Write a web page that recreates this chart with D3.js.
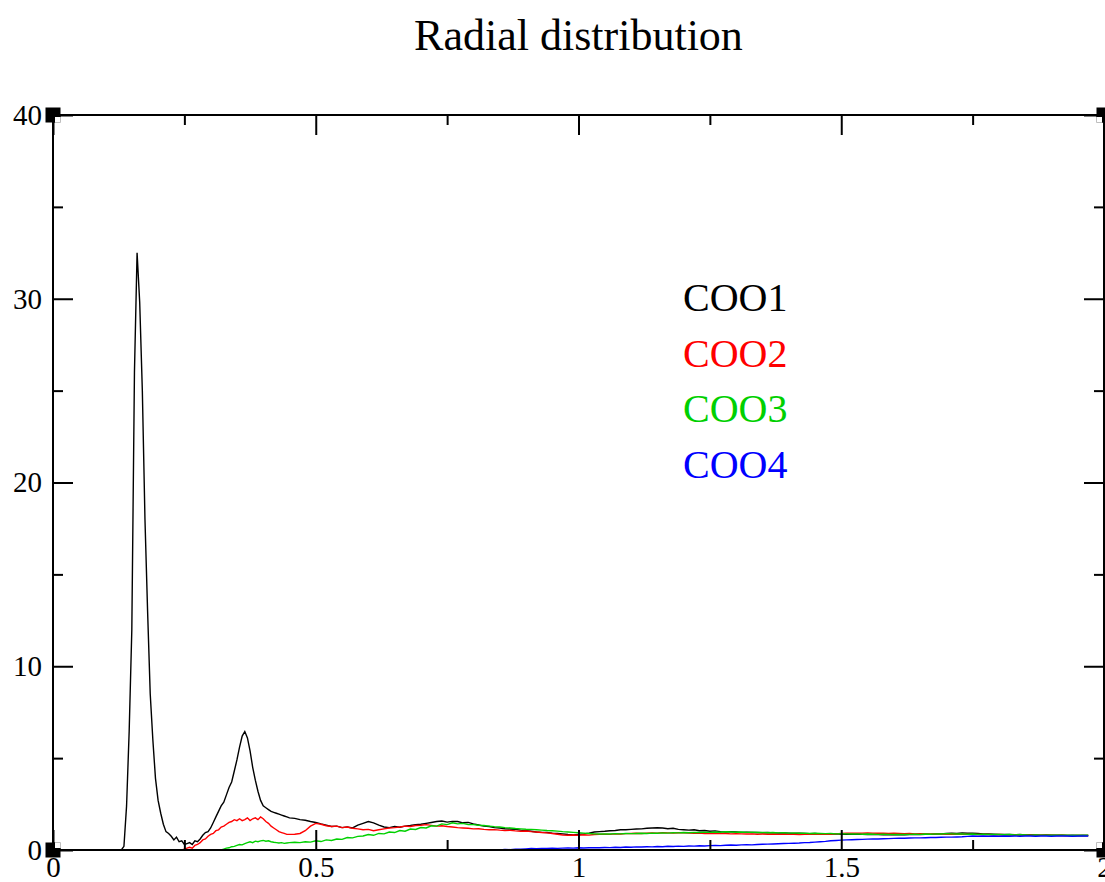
<!DOCTYPE html>
<html lang="en">
<head>
<meta charset="UTF-8">
<title>Radial distribution</title>
<style>
  body { margin: 0; background: #fff; }
  svg { display: block; }
</style>
</head>
<body>
<script src="https://cdn.jsdelivr.net/npm/d3@7"></script>
<script>
    // bin centres (nm): fine near the first peaks, coarser afterwards
    const radius = [
        0.125, 0.13, 0.135, 0.14, 0.145, 0.15, 0.155, 0.16, 0.165, 0.17,
        0.175, 0.18, 0.185, 0.19, 0.195, 0.2, 0.205, 0.21, 0.215, 0.22,
        0.225, 0.23, 0.235, 0.24, 0.245, 0.25, 0.255, 0.26, 0.265, 0.27,
        0.275, 0.28, 0.285, 0.29, 0.295, 0.3, 0.305, 0.31, 0.315, 0.32,
        0.325, 0.33, 0.335, 0.34, 0.345, 0.35, 0.355, 0.36, 0.365, 0.37,
        0.375, 0.38, 0.385, 0.39, 0.395, 0.4, 0.405, 0.41, 0.415, 0.42,
        0.425, 0.43, 0.435, 0.44, 0.445, 0.45,
        0.46, 0.47, 0.48, 0.49,
        0.5, 0.51, 0.52, 0.53, 0.54, 0.55, 0.56, 0.57, 0.58, 0.59,
        0.6, 0.61, 0.62, 0.63, 0.64, 0.65, 0.66, 0.67, 0.68, 0.69,
        0.7, 0.71, 0.72, 0.73, 0.74, 0.75, 0.76, 0.77, 0.78, 0.79,
        0.8, 0.81, 0.82, 0.83, 0.84, 0.85, 0.86, 0.87, 0.88, 0.89,
        0.9, 0.91, 0.92, 0.93, 0.94, 0.95, 0.96, 0.97, 0.98, 0.99,
        1.0, 1.01, 1.02, 1.03, 1.04, 1.05, 1.06, 1.07, 1.08, 1.09,
        1.1, 1.11, 1.12, 1.13, 1.14, 1.15, 1.16, 1.17, 1.18, 1.19,
        1.2, 1.21, 1.22, 1.23, 1.24, 1.25, 1.26, 1.27, 1.28, 1.29,
        1.3, 1.31, 1.32, 1.33, 1.34, 1.35, 1.36, 1.37, 1.38, 1.39,
        1.4, 1.41, 1.42, 1.43, 1.44, 1.45, 1.46, 1.47, 1.48, 1.49,
        1.5, 1.51, 1.52, 1.53, 1.54, 1.55, 1.56, 1.57, 1.58, 1.59,
        1.6, 1.61, 1.62, 1.63, 1.64, 1.65, 1.66, 1.67, 1.68, 1.69,
        1.7, 1.71, 1.72, 1.73, 1.74, 1.75, 1.76, 1.77, 1.78, 1.79,
        1.8, 1.81, 1.82, 1.83, 1.84, 1.85, 1.86, 1.87, 1.88, 1.89,
        1.9, 1.91, 1.92, 1.93, 1.94, 1.95, 1.96, 1.97
    ];

    // COO1 starts at r = 0.125
    const coo1 = [
        0, 0, 0.2, 2.4, 6.5, 12, 26, 32.5, 29.8, 25,
        18, 13, 8.5, 6.0, 3.9, 2.7, 2.0, 1.4, 1.0, 0.9,
        0.75, 0.55, 0.7, 0.45, 0.5, 0.3, 0.35, 0.4, 0.3, 0.5,
        0.45, 0.6, 0.8, 0.95, 1.0, 1.2, 1.5, 1.8, 2.1, 2.4,
        2.6, 3.0, 3.4, 3.7, 4.3, 4.9, 5.6, 6.2, 6.45, 6.1,
        5.4, 4.5, 3.8, 3.2, 2.7, 2.4, 2.3, 2.2, 2.1, 2.05,
        2.0, 1.95, 1.9, 1.85, 1.8, 1.75,
        1.72, 1.65, 1.62, 1.55,
        1.5, 1.42, 1.35, 1.28, 1.3, 1.22, 1.25, 1.2, 1.35, 1.45,
        1.55, 1.48, 1.35, 1.25, 1.22, 1.28, 1.24, 1.3, 1.33, 1.38,
        1.4, 1.45, 1.5, 1.55, 1.58, 1.52, 1.56, 1.55, 1.48, 1.5,
        1.42, 1.36, 1.3, 1.28, 1.22, 1.2, 1.16, 1.14, 1.12, 1.08,
        1.05, 1.02, 0.98, 0.96, 0.95, 0.92, 0.9, 0.88, 0.84, 0.82,
        0.85, 0.88, 0.92, 0.98, 1.0, 1.02, 1.05, 1.06, 1.1, 1.1,
        1.12, 1.14, 1.15, 1.18, 1.2, 1.21, 1.2, 1.16, 1.18, 1.12,
        1.1, 1.08, 1.1, 1.05, 1.06, 1.02, 1.04, 1.0, 0.98, 1.0,
        0.98, 0.96, 0.97, 0.95, 0.96, 0.94, 0.95, 0.93, 0.92, 0.93,
        0.92, 0.9, 0.91, 0.9, 0.89, 0.9, 0.88, 0.89, 0.87, 0.88,
        0.86, 0.87, 0.85, 0.86, 0.85, 0.84, 0.85, 0.84, 0.83, 0.84,
        0.83, 0.84, 0.83, 0.84, 0.85, 0.84, 0.86, 0.85, 0.87, 0.88,
        0.9, 0.92, 0.9, 0.93, 0.91, 0.92, 0.9, 0.88, 0.87, 0.86,
        0.85, 0.84, 0.85, 0.83, 0.84, 0.82, 0.83, 0.82, 0.81, 0.82,
        0.8, 0.81, 0.8, 0.79, 0.8, 0.79, 0.8, 0.79
    ];

    // COO2 starts at r = 0.245
    const coo2 = [
        0, 0.05, 0.1, 0.15, 0.1, 0.25, 0.3, 0.4, 0.55, 0.6,
        0.75, 0.85, 0.9, 1.05, 1.1, 1.25, 1.3, 1.4, 1.5, 1.55,
        1.65, 1.6, 1.7, 1.6, 1.65, 1.75, 1.6, 1.7, 1.75, 1.65,
        1.8, 1.7, 1.55, 1.45, 1.3, 1.2, 1.1, 1.0, 0.95, 0.9,
        0.85, 0.85,
        0.86, 0.9, 1.05, 1.3,
        1.45, 1.4, 1.32, 1.28, 1.3, 1.22, 1.25, 1.18, 1.15, 1.1,
        1.12, 1.05, 1.1, 1.15, 1.2, 1.22, 1.25, 1.3, 1.28, 1.33,
        1.35, 1.38, 1.34, 1.3, 1.32, 1.28, 1.25, 1.22, 1.2, 1.18,
        1.15, 1.16, 1.12, 1.1, 1.11, 1.08, 1.06, 1.07, 1.04, 1.02,
        1.03, 1.0, 0.98, 0.95, 0.93, 0.9, 0.86, 0.82, 0.8, 0.82,
        0.8, 0.83, 0.81, 0.84, 0.85, 0.86, 0.85, 0.88, 0.87, 0.89,
        0.9, 0.91, 0.9, 0.92, 0.93, 0.92, 0.94, 0.93, 0.92, 0.94,
        0.93, 0.92, 0.91, 0.92, 0.9, 0.91, 0.9, 0.89, 0.9, 0.88,
        0.89, 0.88, 0.87, 0.88, 0.86, 0.87, 0.86, 0.87, 0.85, 0.86,
        0.85, 0.86, 0.84, 0.85, 0.86, 0.85, 0.86, 0.87, 0.86, 0.88,
        0.9, 0.91, 0.92, 0.91, 0.92, 0.93, 0.92, 0.91, 0.92, 0.9,
        0.91, 0.9, 0.89, 0.9, 0.88, 0.89, 0.88, 0.87, 0.88, 0.87,
        0.86, 0.87, 0.86, 0.85, 0.86, 0.85, 0.84, 0.85, 0.84, 0.83,
        0.84, 0.83, 0.82, 0.83, 0.82, 0.81, 0.82, 0.81, 0.8, 0.81,
        0.8, 0.79, 0.8, 0.79, 0.78, 0.79, 0.78, 0.79
    ];

    // COO3 starts at r = 0.32
    const coo3 = [
        0, 0.05, 0.1, 0.12, 0.18, 0.2, 0.25, 0.3, 0.28, 0.35,
        0.4, 0.45, 0.4, 0.48, 0.45, 0.5, 0.52, 0.48, 0.5, 0.45,
        0.42, 0.4, 0.38, 0.4, 0.36, 0.38, 0.4,
        0.42, 0.4, 0.45, 0.43,
        0.5, 0.46, 0.55, 0.52, 0.6, 0.58, 0.68, 0.66, 0.74, 0.76,
        0.84, 0.8, 0.9, 0.88, 0.98, 0.95, 1.06, 1.02, 1.14, 1.12,
        1.22, 1.2, 1.32, 1.3, 1.42, 1.38, 1.48, 1.42, 1.45, 1.38,
        1.38, 1.35, 1.33, 1.3, 1.27, 1.25, 1.22, 1.2, 1.17, 1.15,
        1.13, 1.12, 1.1, 1.08, 1.06, 1.05, 1.03, 1.0, 0.98, 0.96,
        0.94, 0.92, 0.9, 0.88, 0.87, 0.88, 0.87, 0.89, 0.88, 0.9,
        0.89, 0.9, 0.91, 0.9, 0.92, 0.91, 0.93, 0.92, 0.94, 0.93,
        0.95, 0.94, 0.96, 0.95, 0.97, 0.96, 0.98, 0.97, 0.99, 0.98,
        0.97, 0.98, 0.96, 0.97, 0.95, 0.96, 0.94, 0.95, 0.93, 0.94,
        0.92, 0.93, 0.91, 0.92, 0.9, 0.91, 0.9, 0.89, 0.9, 0.88,
        0.89, 0.88, 0.87, 0.88, 0.86, 0.87, 0.86, 0.85, 0.86, 0.85,
        0.84, 0.85, 0.84, 0.85, 0.86, 0.85, 0.87, 0.86, 0.88, 0.87,
        0.89, 0.88, 0.87, 0.88, 0.86, 0.87, 0.85, 0.86, 0.84, 0.85,
        0.84, 0.83, 0.84, 0.82, 0.83, 0.82, 0.81, 0.82, 0.81, 0.8,
        0.81, 0.8, 0.81, 0.8, 0.79, 0.8, 0.79, 0.8
    ];

    // COO4 starts at r = 0.82
    const coo4 = [
        0, 0, 0.02, 0, 0.03, 0.02, 0.05, 0.04,
        0.06, 0.08, 0.07, 0.09, 0.08, 0.1, 0.09, 0.1, 0.11, 0.1,
        0.12, 0.11, 0.12, 0.13, 0.12, 0.14, 0.13, 0.15, 0.14, 0.16,
        0.15, 0.17, 0.16, 0.18, 0.17, 0.19, 0.18, 0.2, 0.19, 0.21,
        0.2, 0.22, 0.21, 0.23, 0.22, 0.24, 0.25, 0.24, 0.26, 0.27,
        0.26, 0.28, 0.29, 0.28, 0.3, 0.31, 0.32, 0.33, 0.34, 0.35,
        0.36, 0.37, 0.38, 0.4, 0.41, 0.43, 0.45, 0.47, 0.5, 0.52,
        0.54, 0.55, 0.56, 0.57, 0.58, 0.59, 0.6, 0.6, 0.61, 0.62,
        0.63, 0.64, 0.64, 0.65, 0.66, 0.66, 0.67, 0.68, 0.68, 0.69,
        0.7, 0.7, 0.71, 0.72, 0.74, 0.76, 0.75, 0.76, 0.75, 0.76,
        0.75, 0.76, 0.75, 0.76, 0.75, 0.76, 0.76, 0.75, 0.76, 0.76,
        0.75, 0.76, 0.76, 0.76, 0.75, 0.76, 0.76, 0.76
    ];

    const seriesNames = ["COO1", "COO2", "COO3", "COO4"];
    const seriesStart = [0.125, 0.245, 0.32, 0.82];
    const seriesColors = ["#000000", "#ff0000", "#00d000", "#0000ff"];

    const xMajorTicks = [0, 0.5, 1, 1.5, 2];
    const xMinorTicks = [0.25, 0.75, 1.25, 1.75];
    const yMajorTicks = [0, 10, 20, 30, 40];
    const yMinorTicks = [5, 15, 25, 35];

    const width = 1105;
    const height = 882;
    const margin = ({top: 115, right: 1, bottom: 32, left: 53});
    const serif = "'Liberation Serif', 'Times New Roman', serif";

    const svg = d3.select("body")
        .append("svg")
        .attr("width", width)
        .attr("height", height)
        .style("background", "#fff");

    const x = d3.scaleLinear()
        .domain([0, 2])
        .range([margin.left, width - margin.right]);

    const y = d3.scaleLinear()
        .domain([0, 40])
        .range([height - margin.bottom, margin.top]);

    const series = seriesNames.map((name, i) => {
        const values = [coo1, coo2, coo3, coo4][i];
        const first = radius.findIndex(r => Math.abs(r - seriesStart[i]) < 1e-9);
        if (first < 0 || first + values.length !== radius.length)
            throw new Error(name + " length mismatch: " + first + " + " + values.length + " vs " + radius.length);
        return {name, color: seriesColors[i], points: values.map((v, j) => [radius[first + j], v])};
    });

    // title
    svg.append("text")
        .attr("x", (x(0) + x(2)) / 2)
        .attr("y", 50)
        .attr("text-anchor", "middle")
        .attr("font-family", serif)
        .attr("font-size", 44)
        .attr("fill", "#000")
        .text("Radial distribution");

    // curves
    const line = d3.line()
        .x(d => x(d[0]))
        .y(d => y(d[1]));

    svg.append("g")
        .selectAll("path")
        .data(series)
        .enter().append("path")
        .attr("d", d => line(d.points))
        .attr("fill", "none")
        .attr("stroke", d => d.color)
        .attr("stroke-width", 1.4)
        .attr("stroke-linejoin", "miter");

    // legend
    svg.append("g")
        .selectAll("text")
        .data(series)
        .enter().append("text")
        .attr("x", 683)
        .attr("y", (d, i) => 311 + i * 55.5)
        .attr("font-family", serif)
        .attr("font-size", 40)
        .attr("fill", d => d.color)
        .text(d => d.name);

    // inward ticks on all four sides, labels only on bottom and left
    function addAxis(axisFn, scale, ticks, size, transform, labelled) {
        const g = svg.append("g")
            .attr("transform", transform)
            .call(axisFn(scale)
                .tickValues(ticks)
                .tickSizeInner(-size)
                .tickSizeOuter(0)
                .tickPadding(axisFn === d3.axisLeft ? 11 : 6)
                .tickFormat(labelled ? d => String(d) : () => ""));
        g.select(".domain").remove();
        g.selectAll(".tick line").attr("stroke", "#000").attr("stroke-width", 2);
        g.selectAll("text")
            .attr("font-family", serif)
            .attr("font-size", 29)
            .attr("fill", "#000");
        return g;
    }

    const atBottom = `translate(0,${y(0)})`;
    const atTop = `translate(0,${y(40)})`;
    const atLeft = `translate(${x(0)},0)`;
    const atRight = `translate(${x(2)},0)`;

    addAxis(d3.axisBottom, x, xMajorTicks, 20, atBottom, true);
    addAxis(d3.axisBottom, x, xMinorTicks, 10, atBottom, false);
    addAxis(d3.axisTop, x, xMajorTicks, 20, atTop, false);
    addAxis(d3.axisTop, x, xMinorTicks, 10, atTop, false);
    addAxis(d3.axisLeft, y, yMajorTicks, 20, atLeft, true);
    addAxis(d3.axisLeft, y, yMinorTicks, 10, atLeft, false);
    addAxis(d3.axisRight, y, yMajorTicks, 20, atRight, false);
    addAxis(d3.axisRight, y, yMinorTicks, 10, atRight, false);

    // frame
    svg.append("rect")
        .attr("x", x(0))
        .attr("y", y(40))
        .attr("width", x(2) - x(0))
        .attr("height", y(0) - y(40))
        .attr("fill", "none")
        .attr("stroke", "#000")
        .attr("stroke-width", 2);

    // corner handles
    const corners = [[0, 40, 1, 1], [2, 40, -1, 1], [0, 0, 1, -1], [2, 0, -1, -1]];
    const handles = svg.append("g")
        .selectAll("g")
        .data(corners)
        .enter().append("g")
        .attr("transform", d => `translate(${x(d[0])},${y(d[1])})`);
    handles.append("rect")
        .attr("x", -7.5).attr("y", -7.5)
        .attr("width", 15).attr("height", 15)
        .attr("fill", "#000");
    handles.append("rect")
        .attr("x", d => d[2] > 0 ? 2 : -7.5)
        .attr("y", d => d[3] > 0 ? 2 : -7.5)
        .attr("width", 5.5).attr("height", 5.5)
        .attr("fill", "#fff");
    handles.append("path")
        .attr("d", d => `M${d[2] * 1},${d[3] * 7.5}V${d[3] * 1}H${d[2] * 7.5}`)
        .attr("fill", "none")
        .attr("stroke", "#000")
        .attr("stroke-width", 2);
</script>
</body>
</html>
